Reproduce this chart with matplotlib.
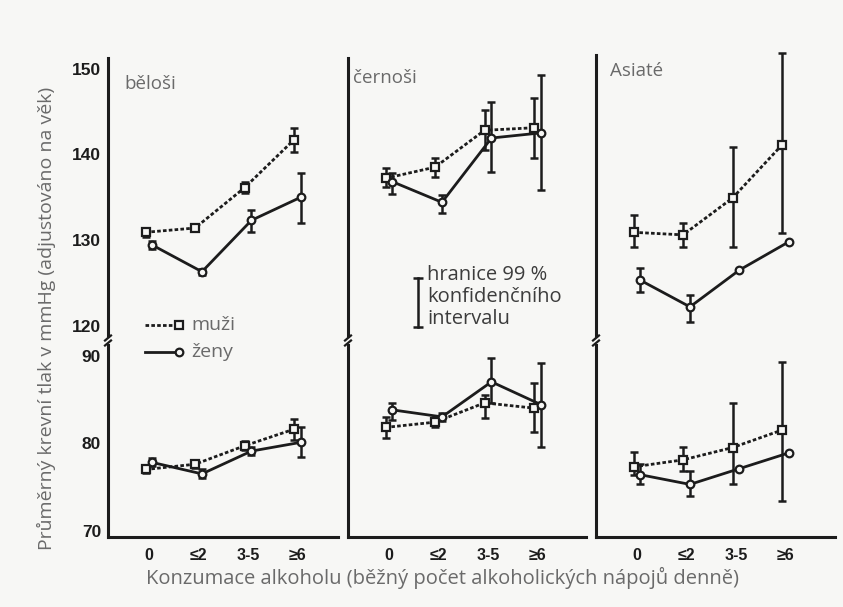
import numpy as np
import matplotlib
matplotlib.use("Agg")
import matplotlib.pyplot as plt
from matplotlib.lines import Line2D

nan = np.nan

CATEGORIES = ["0", "≤2", "3-5", "≥6"]
PANELS = ["běloši", "černoši", "Asiaté"]

# běloši - horní část (systolický), dolní část (diastolický)
belosi_muzi_top = [130.9, 131.4, 136.1, 141.7]
belosi_muzi_top_lo = [130.4, nan, 135.5, 140.3]
belosi_muzi_top_hi = [131.4, nan, 136.8, 143.1]
belosi_zeny_top = [129.4, 126.3, 132.3, 135.0]
belosi_zeny_top_lo = [129.0, 125.9, 130.9, 132.0]
belosi_zeny_top_hi = [129.9, 126.6, 133.5, 137.8]
belosi_muzi_bot = [77.0, 77.6, 79.7, 81.6]
belosi_muzi_bot_lo = [76.6, 77.2, 79.2, 80.4]
belosi_muzi_bot_hi = [77.5, 78.0, 80.2, 82.8]
belosi_zeny_bot = [77.8, 76.5, 79.1, 80.1]
belosi_zeny_bot_lo = [77.4, 76.0, 78.7, 78.4]
belosi_zeny_bot_hi = [78.3, 77.0, 79.6, 81.8]

# černoši
cernosi_muzi_top = [137.2, 138.5, 142.8, 143.1]
cernosi_muzi_top_lo = [136.2, 137.4, 140.5, 139.6]
cernosi_muzi_top_hi = [138.4, 139.6, 145.2, 146.6]
cernosi_zeny_top = [136.8, 134.4, 141.9, 142.5]
cernosi_zeny_top_lo = [135.4, 133.2, 137.9, 135.8]
cernosi_zeny_top_hi = [137.8, 135.3, 146.1, 149.3]
cernosi_muzi_bot = [81.8, 82.4, 84.6, 84.0]
cernosi_muzi_bot_lo = [80.6, 81.9, 82.9, 81.3]
cernosi_muzi_bot_hi = [83.0, 82.9, 85.5, 86.9]
cernosi_zeny_bot = [83.8, 83.0, 87.0, 84.4]
cernosi_zeny_bot_lo = [82.6, 82.5, 84.6, 79.6]
cernosi_zeny_bot_hi = [84.6, 83.5, 89.7, 89.2]

# Asiaté
asiate_muzi_top = [130.9, 130.6, 134.9, 141.1]
asiate_muzi_top_lo = [129.2, 129.2, 129.2, 130.8]
asiate_muzi_top_hi = [132.9, 132.0, 140.9, 151.8]
asiate_zeny_top = [125.3, 122.2, 126.5, 129.8]
asiate_zeny_top_lo = [123.9, 120.4, nan, nan]
asiate_zeny_top_hi = [126.7, 123.6, nan, nan]
asiate_muzi_bot = [77.3, 78.1, 79.5, 81.5]
asiate_muzi_bot_lo = [76.4, 76.8, 75.4, 73.4]
asiate_muzi_bot_hi = [79.0, 79.6, 84.6, 89.3]
asiate_zeny_bot = [76.4, 75.3, 77.1, 78.9]
asiate_zeny_bot_lo = [75.4, 74.0, nan, nan]
asiate_zeny_bot_hi = [77.6, 76.8, nan, nan]

TOP = [
    (belosi_muzi_top, belosi_muzi_top_lo, belosi_muzi_top_hi,
     belosi_zeny_top, belosi_zeny_top_lo, belosi_zeny_top_hi),
    (cernosi_muzi_top, cernosi_muzi_top_lo, cernosi_muzi_top_hi,
     cernosi_zeny_top, cernosi_zeny_top_lo, cernosi_zeny_top_hi),
    (asiate_muzi_top, asiate_muzi_top_lo, asiate_muzi_top_hi,
     asiate_zeny_top, asiate_zeny_top_lo, asiate_zeny_top_hi),
]
BOT = [
    (belosi_muzi_bot, belosi_muzi_bot_lo, belosi_muzi_bot_hi,
     belosi_zeny_bot, belosi_zeny_bot_lo, belosi_zeny_bot_hi),
    (cernosi_muzi_bot, cernosi_muzi_bot_lo, cernosi_muzi_bot_hi,
     cernosi_zeny_bot, cernosi_zeny_bot_lo, cernosi_zeny_bot_hi),
    (asiate_muzi_bot, asiate_muzi_bot_lo, asiate_muzi_bot_hi,
     asiate_zeny_bot, asiate_zeny_bot_lo, asiate_zeny_bot_hi),
]

W, H = 843, 607
INK = "#1c1c1c"
GREY = "#6a6a6a"
BG = "#f7f7f5"
plt.rcParams["font.family"] = ["Open Sans", "DejaVu Sans"]
TICK_FONT = ["Liberation Sans", "DejaVu Sans"]

fig = plt.figure(figsize=(W / 100, H / 100), dpi=100, facecolor=BG)


def box(x0, y0, x1, y1):
    return [x0 / W, 1 - y1 / H, (x1 - x0) / W, (y1 - y0) / H]


def fx(x, y):
    return x / W, 1 - y / H


PANEL_X = [(108, 338), (348, 586), (596, 835)]
TITLE_POS = [(124, 84), (353, 78), (610, 71)]
X0_PX, STEP_PX = 41, 49.5
MUZI_DASH = (0, (1.3, 0.8))


def draw(ax, vals, lo, hi, dx, dashed):
    x = np.arange(len(CATEGORIES)) + dx
    v, l, h = np.array(vals), np.array(lo), np.array(hi)
    m = ~np.isnan(l)
    eb = ax.errorbar(x[m], v[m], yerr=[v[m] - l[m], h[m] - v[m]], fmt="none",
                     ecolor=INK, elinewidth=1.8, capsize=3.2, capthick=1.8, zorder=2)
    for art in list(eb.lines[1]) + list(eb.lines[2]):
        art.set_clip_on(False)
    ax.plot(x, v, color=INK, lw=2.0, ls=MUZI_DASH if dashed else "-",
            marker="s" if dashed else "o", ms=5.5, mfc=BG, mec=INK, mew=1.6,
            zorder=3, clip_on=False)


for i, (x0, x1) in enumerate(PANEL_X):
    w = x1 - x0
    xlim = (-X0_PX / STEP_PX, (w - X0_PX) / STEP_PX)
    top_px = 58 if i < 2 else 55

    at = fig.add_axes(box(x0, top_px, x1, 336))
    ab = fig.add_axes(box(x0, 345, x1, 537))
    at.set_ylim(118.8, 130 + (240 - top_px) / 8.57)
    ab.set_ylim(69.3, 91.2)
    for ax in (at, ab):
        ax.set_facecolor("none")
        ax.set_xlim(*xlim)
        for s in ("top", "right"):
            ax.spines[s].set_visible(False)
        ax.spines["left"].set_linewidth(2.2)
        ax.spines["left"].set_color(INK)
        ax.tick_params(length=0, colors=INK, pad=5)
    at.spines["bottom"].set_visible(False)
    ab.spines["bottom"].set_linewidth(2.2)
    ab.spines["bottom"].set_color(INK)
    at.set_xticks([])
    ab.set_xticks(range(len(CATEGORIES)))
    ab.set_xticklabels(CATEGORIES, fontweight="bold", family=TICK_FONT, fontsize=11.5)
    ab.tick_params(axis="x", pad=8)
    if i == 0:
        at.set_yticks([120, 130, 140, 150])
        ab.set_yticks([70, 80, 90])
        for ax in (at, ab):
            for t in ax.get_yticklabels():
                t.set_fontweight("bold")
                t.set_family(TICK_FONT)
                t.set_fontsize(12.5)
    else:
        at.set_yticks([])
        ab.set_yticks([])

    mt, mtl, mth, zt, ztl, zth = TOP[i]
    mb, mbl, mbh, zb, zbl, zbh = BOT[i]
    draw(at, mt, mtl, mth, -0.07, True)
    draw(at, zt, ztl, zth, 0.07, False)
    draw(ab, mb, mbl, mbh, -0.07, True)
    draw(ab, zb, zbl, zbh, 0.07, False)

    tx, ty = fx(*TITLE_POS[i])
    fig.text(tx, ty, PANELS[i], fontsize=13.5, color=GREY, va="center", ha="left")

    # zlom osy
    for yy in (338, 343):
        fig.add_artist(Line2D([(x0 - 3) / W, (x0 + 3) / W],
                              [1 - (yy + 2.5) / H, 1 - (yy - 2.5) / H],
                              color=INK, lw=1.6))

# legenda
for yy, dashed, lab in ((325, True, "muži"), (352, False, "ženy")):
    (xa, ya), (xb, _) = fx(145, yy), fx(179, yy)
    fig.add_artist(Line2D([xa, xb], [ya, ya], color=INK, lw=2.0,
                          ls=MUZI_DASH if dashed else "-"))
    fig.add_artist(Line2D([xb], [ya], marker="s" if dashed else "o", ms=5.5,
                          mfc=BG, mec=INK, mew=1.6, color=INK))
    fig.text(fx(191, yy)[0], ya, lab, fontsize=14, color=GREY, va="center")

# vysvětlivka intervalu
(cx, cy0), (_, cy1) = fx(418, 278), fx(418, 327)
fig.add_artist(Line2D([cx, cx], [cy0, cy1], color=INK, lw=1.8, marker="_",
                      ms=7, mew=1.8))
fig.text(fx(427, 265)[0], fx(427, 265)[1], "hranice 99 %\nkonfidenčního\nintervalu",
         fontsize=14.5, color="#3c3c3c", va="top", ha="left", linespacing=1.15)

fig.text(fx(442, 578)[0], fx(442, 578)[1],
         "Konzumace alkoholu (běžný počet alkoholických nápojů denně)",
         fontsize=14.5, color=GREY, ha="center", va="center")
fig.text(fx(46, 318)[0], fx(46, 318)[1],
         "Průměrný krevní tlak v mmHg (adjustováno na věk)",
         fontsize=14, color=GREY, ha="center", va="center", rotation=90)

fig.savefig("out.png", dpi=100, facecolor=BG)
